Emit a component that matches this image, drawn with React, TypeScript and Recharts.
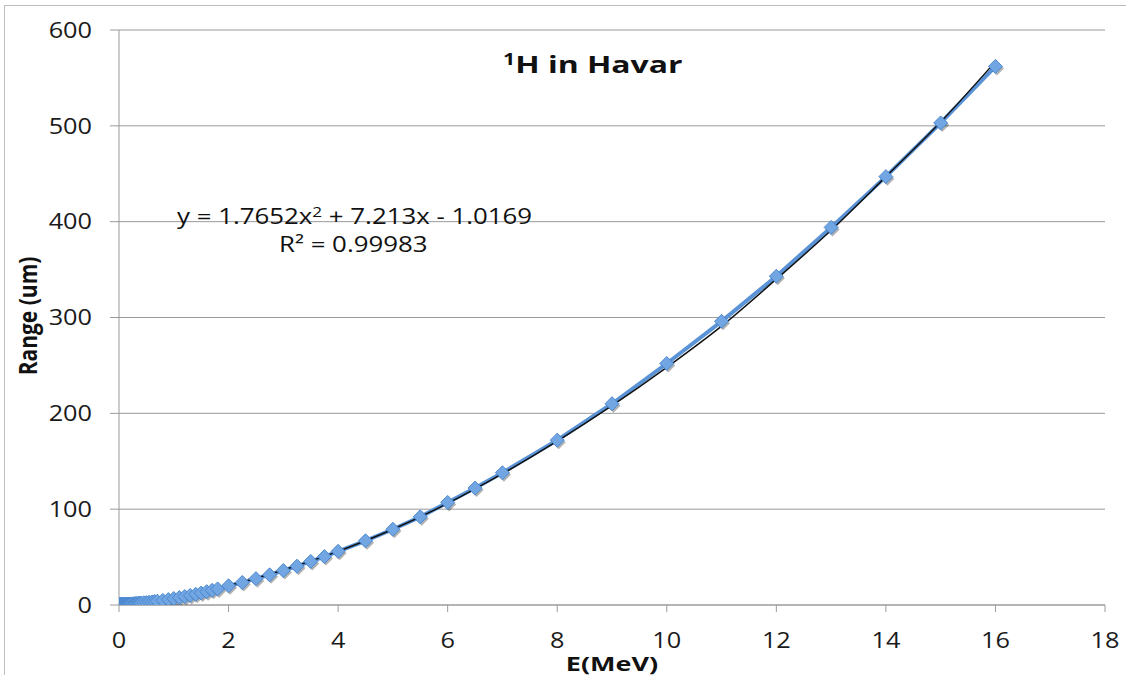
import React from "react";
import {
  ComposedChart,
  Line,
  XAxis,
  YAxis,
  CartesianGrid,
} from "recharts";

// SRIM energies (MeV) and projected range (um)
const ENERGY = [
  0.01, 0.011, 0.012, 0.013, 0.014, 0.015, 0.016, 0.017, 0.018, 0.02, 0.0225, 0.025, 0.0275,
  0.03, 0.0325, 0.035, 0.0375, 0.04, 0.045, 0.05, 0.055, 0.06, 0.065, 0.07, 0.08, 0.09,
  0.1, 0.11, 0.12, 0.13, 0.14, 0.15, 0.16, 0.17, 0.18, 0.2, 0.225, 0.25, 0.275, 0.3,
  0.325, 0.35, 0.375, 0.4, 0.45, 0.5, 0.55, 0.6, 0.65, 0.7, 0.8, 0.9, 1.0, 1.1, 1.2,
  1.3, 1.4, 1.5, 1.6, 1.7, 1.8, 2.0, 2.25, 2.5, 2.75, 3.0, 3.25, 3.5, 3.75, 4.0, 4.5,
  5.0, 5.5, 6.0, 6.5, 7.0, 8.0, 9.0, 10, 11, 12, 13, 14, 15, 16,
];
const RANGE = [
  0.12, 0.12, 0.13, 0.13, 0.14, 0.14, 0.15, 0.15, 0.16, 0.17, 0.18, 0.19, 0.2,
  0.21, 0.22, 0.23, 0.24, 0.25, 0.27, 0.29, 0.31, 0.34, 0.36, 0.38, 0.42, 0.46,
  0.5, 0.55, 0.6, 0.65, 0.7, 0.75, 0.8, 0.85, 0.9, 1.0, 1.1, 1.2, 1.35, 1.45,
  1.6, 1.7, 1.85, 2.0, 2.3, 2.6, 2.9, 3.2, 3.6, 4.0, 4.8, 5.7, 6.7, 7.7, 8.8,
  10, 11.2, 12.5, 13.9, 15.3, 16.8, 20, 23.5, 27.5, 31.5, 36, 40.5, 45.5, 50.5, 56, 67,
  79, 92, 107, 122, 138, 172, 210, 252, 296, 343, 394, 447, 503, 562,
];

// polynomial trendline as drawn (black)
const FIT_E = [0.25, 0.5, 1, 1.5, 2, 3, 4, 5, 6, 7, 8, 9, 10, 11, 12, 13, 14, 15, 16];
const FIT_R = [0.9, 3.0, 8.0, 14.8, 20.5, 36.5, 56, 79, 106, 137, 171, 208, 248, 291, 340, 391, 447, 504, 567];

const X_TICKS = [0, 2, 4, 6, 8, 10, 12, 14, 16, 18];
const Y_TICKS = [0, 100, 200, 300, 400, 500, 600];

const data = ENERGY.map((e, i) => ({ e, r: RANGE[i] }));
const fit = FIT_E.map((e, i) => ({ e, f: FIT_R[i] }));

const FONT = "'Open Sans', 'DejaVu Sans', sans-serif";

const Diamond = (props: any) => {
  const { cx, cy, index } = props;
  if (cx == null || cy == null) return <g key={index} />;
  const r = 7;
  const pts = (dx: number, dy: number) =>
    `${cx + dx},${cy + dy - r} ${cx + dx + r},${cy + dy} ${cx + dx},${cy + dy + r} ${cx + dx - r},${cy + dy}`;
  return (
    <g key={index}>
      <polygon points={pts(1.5, 2)} fill="rgba(0,0,0,0.3)" />
      <polygon points={pts(0, 0)} fill="#72a6e2" stroke="#4b88d0" strokeWidth={1} />
    </g>
  );
};

const XTick = (props: any) => {
  const { x, y, payload } = props;
  return (
    <text
      transform={`translate(${x},${y}) scale(1.15,1)`}
      textAnchor="middle"
      dy="0.71em"
      fontSize={22}
      fontFamily={FONT}
      fill="#1a1a1a"
    >
      {payload.value}
    </text>
  );
};

const YTick = (props: any) => {
  const { x, y, payload } = props;
  return (
    <text
      transform={`translate(${x},${y}) scale(1.15,1)`}
      textAnchor="end"
      dy="0.355em"
      fontSize={22}
      fontFamily={FONT}
      fill="#1a1a1a"
    >
      {payload.value}
    </text>
  );
};

const supStyle: React.CSSProperties = { fontSize: 14, lineHeight: 0, verticalAlign: "0.5em" };

export default function App() {
  return (
    <div
      style={{
        position: "absolute",
        left: 0,
        top: 0,
        width: 1126,
        height: 675,
        overflow: "hidden",
        background: "#fff",
        fontFamily: FONT,
      }}
    >
      <div
        style={{
          position: "absolute",
          left: 4,
          top: 5,
          width: 1300,
          height: 900,
          border: "1px solid #bdbdbd",
        }}
      />
      <div style={{ position: "absolute", left: 0, top: 0 }}>
        <ComposedChart
          width={1126}
          height={675}
          margin={{ top: 30, right: 21, bottom: 10, left: 59 }}
        >
          <CartesianGrid vertical={false} stroke="#9a9a9a" />
          <XAxis
            type="number"
            dataKey="e"
            domain={[0, 18]}
            ticks={X_TICKS}
            allowDataOverflow
            stroke="#9a9a9a"
            tickSize={7}
            tickMargin={20}
            height={60}
            tick={<XTick />}
          />
          <YAxis
            type="number"
            domain={[0, 600]}
            ticks={Y_TICKS}
            allowDataOverflow
            stroke="#9a9a9a"
            tickSize={9}
            tickMargin={18}
            width={60}
            tick={<YTick />}
          />
          <Line
            data={data}
            dataKey="r"
            type="linear"
            stroke="#5a93d6"
            strokeWidth={4}
            dot={Diamond}
            activeDot={false}
            isAnimationActive={false}
          />
          <Line
            data={fit}
            dataKey="f"
            type="monotone"
            stroke="#111"
            strokeWidth={1.5}
            dot={false}
            activeDot={false}
            isAnimationActive={false}
          />
        </ComposedChart>
      </div>

      <div
        style={{
          position: "absolute",
          left: 503,
          top: 48,
          fontSize: 24,
          fontWeight: 700,
          color: "#111",
          transform: "scaleX(1.33)",
          transformOrigin: "left top",
          whiteSpace: "nowrap",
          lineHeight: "32px",
        }}
      >
        <sup style={{ ...supStyle, fontSize: 16 }}>1</sup>H in Havar
      </div>

      <div
        style={{
          position: "absolute",
          left: 177,
          top: 202,
          fontSize: 21,
          color: "#111",
          transform: "scaleX(1.23)",
          transformOrigin: "left top",
          whiteSpace: "nowrap",
          lineHeight: "28px",
        }}
      >
        y = 1.7652x<sup style={supStyle}>2</sup> + 7.213x - 1.0169
      </div>
      <div
        style={{
          position: "absolute",
          left: 279,
          top: 230,
          fontSize: 21,
          color: "#111",
          transform: "scaleX(1.23)",
          transformOrigin: "left top",
          whiteSpace: "nowrap",
          lineHeight: "28px",
        }}
      >
        R² = 0.99983
      </div>

      <div
        style={{
          position: "absolute",
          left: 28,
          top: 316,
          fontSize: 21,
          fontWeight: 700,
          color: "#111",
          whiteSpace: "nowrap",
          transform: "translate(-50%,-50%) scaleX(1.15) rotate(-90deg)",
        }}
      >
        Range (um)
      </div>
      <div
        style={{
          position: "absolute",
          left: 612,
          top: 663,
          fontSize: 20,
          fontWeight: 700,
          color: "#111",
          whiteSpace: "nowrap",
          transform: "translate(-50%,-50%) scaleX(1.35)",
        }}
      >
        E(MeV)
      </div>
    </div>
  );
}
